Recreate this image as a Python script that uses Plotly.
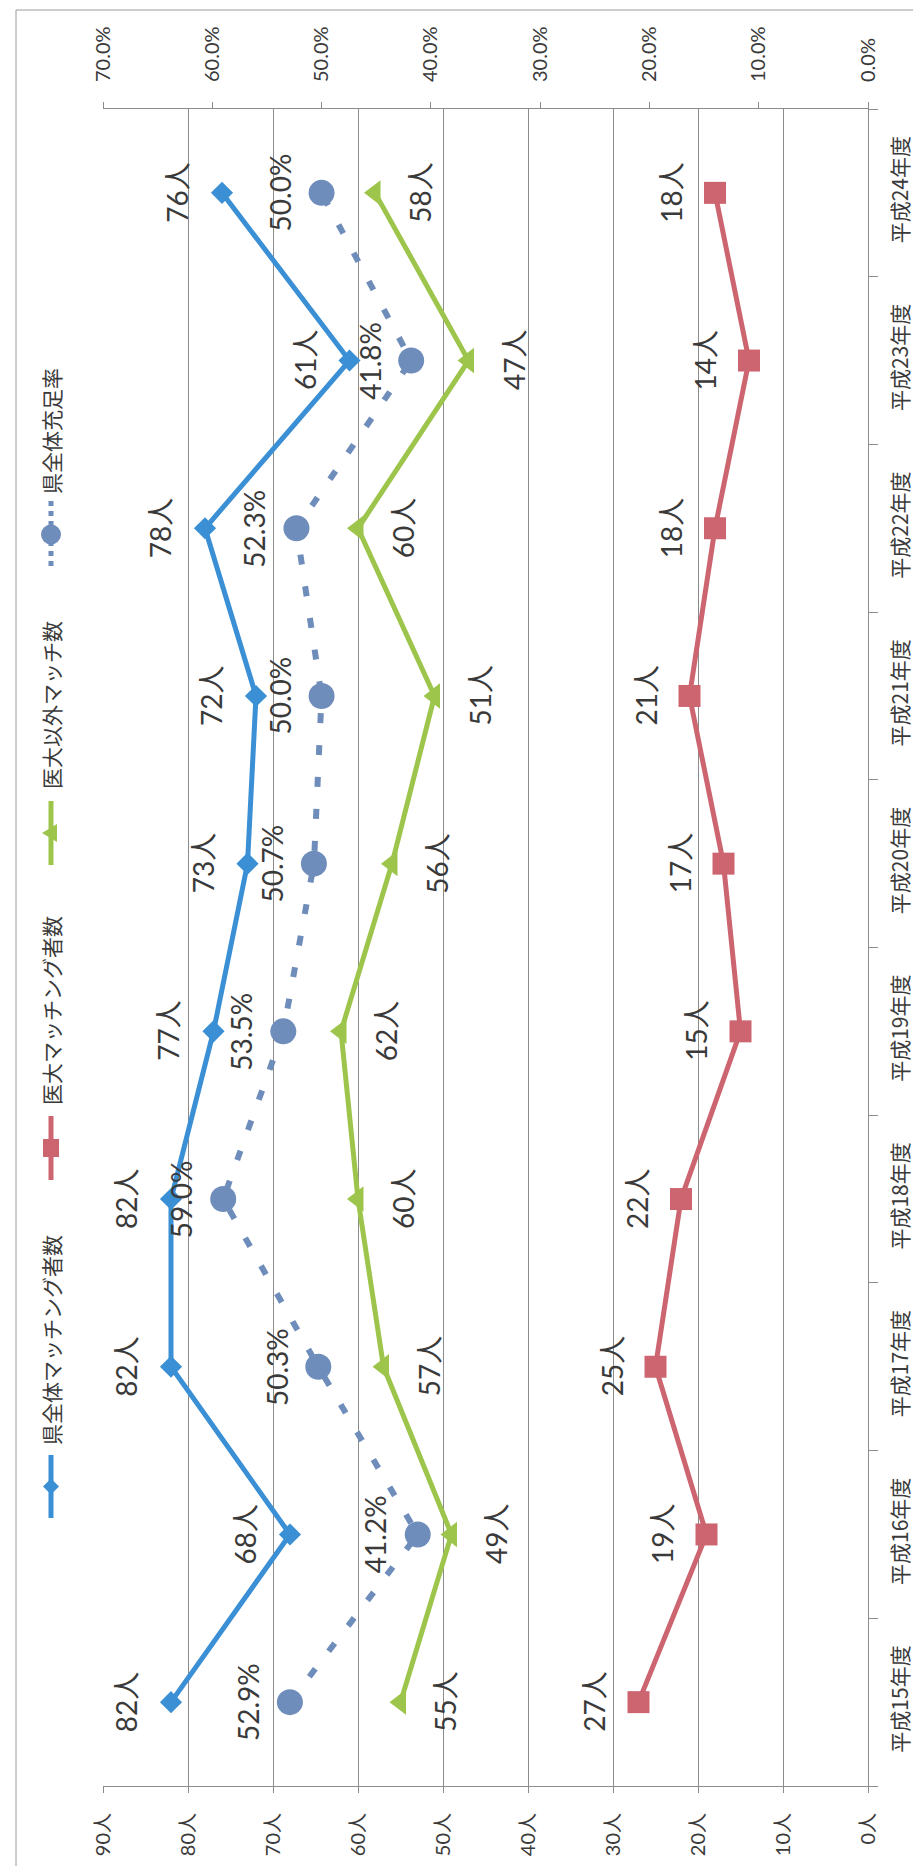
import plotly.graph_objects as go

# ---- data ----
categories = ["平成15年度", "平成16年度", "平成17年度", "平成18年度", "平成19年度",
              "平成20年度", "平成21年度", "平成22年度", "平成23年度", "平成24年度"]
total_match = [82, 68, 82, 82, 77, 73, 72, 78, 61, 76]          # 県全体マッチング者数
idai_match = [27, 19, 25, 22, 15, 17, 21, 18, 14, 18]            # 医大マッチング者数
other_match = [55, 49, 57, 60, 62, 56, 51, 60, 47, 58]           # 医大以外マッチ数
fill_rate = [52.9, 41.2, 50.3, 59.0, 53.5, 50.7, 50.0, 52.3, 41.8, 50.0]  # 県全体充足率 (%)

series_names = ["県全体マッチング者数", "医大マッチング者数", "医大以外マッチ数", "県全体充足率"]

# ---- style ----
W, H = 921, 1866
L, R, T, B = 95, 61, 101, 88
C_BLUE = "#3b8fd4"
C_RED = "#cc6570"
C_GREEN = "#9dc54c"
C_RATE = "#6f8dbb"
TXT = "#3a3a3a"
GRID = "#8c8c8c"
FONT = "Lato, 'Noto Sans CJK JP', sans-serif"
CJK = "'Noto Sans CJK JP', sans-serif"

fig = go.Figure()

fig.add_trace(go.Scatter(x=total_match, y=categories, mode="lines+markers", name=series_names[0],
                         line=dict(color=C_BLUE, width=5),
                         marker=dict(symbol="diamond", size=17, color=C_BLUE)))
fig.add_trace(go.Scatter(x=idai_match, y=categories, mode="lines+markers", name=series_names[1],
                         line=dict(color=C_RED, width=5),
                         marker=dict(symbol="square", size=22, color=C_RED)))
fig.add_trace(go.Scatter(x=other_match, y=categories, mode="lines+markers", name=series_names[2],
                         line=dict(color=C_GREEN, width=5),
                         marker=dict(symbol="triangle-left", size=22, color=C_GREEN)))
fig.add_trace(go.Scatter(x=fill_rate, y=categories, xaxis="x2", mode="lines+markers", name=series_names[3],
                         line=dict(color=C_RATE, width=6, dash="10px,22px"),
                         marker=dict(symbol="circle", size=26, color=C_RATE)))

# ---- data labels (rotated) ----
ann = []
def lab(xs, fmt, xref, shift):
    for c, v in zip(categories, xs):
        ann.append(dict(x=v, y=c, xref=xref, yref="y", text=fmt(v), showarrow=False,
                        xanchor="center", yanchor="middle",
                        textangle=-90, xshift=shift, font=dict(family=FONT, size=28, color=TXT)))

lab(total_match, lambda v: f"{v}人", "x", -45)
lab(idai_match, lambda v: f"{v}人", "x", -44)
lab(other_match, lambda v: f"{v}人", "x", 45)
lab(fill_rate, lambda v: f"{v:.1f}%", "x2", -42)

# ---- custom rotated legend ----
pw, ph = W - L - R, H - T - B
def px(xp):
    return (xp - L) / pw
def py(yp):
    return (H - B - yp) / ph

leg_x = 43
legend_items = [
    # name, color, symbol-line y range (px), text centre y (px), marker kind
    (series_names[0], C_BLUE, (1447, 1510), 1332, "diamond"),
    (series_names[1], C_RED, (1108, 1172), 1003, "square"),
    (series_names[2], C_GREEN, (793, 857), 697, "triangle"),
    (series_names[3], C_RATE, (493, 560), 423, "circle"),
]
shapes = []
for name, col, (y0, y1), ty, kind in legend_items:
    dash = "dot" if kind == "circle" else "solid"
    shapes.append(dict(type="line", xref="paper", yref="paper", x0=px(leg_x), x1=px(leg_x),
                       y0=py(y0), y1=py(y1), line=dict(color=col, width=5, dash=dash)))
    ax, ay = px(leg_x), py((y0 + y1) / 2)
    common = dict(xref="paper", yref="paper", xsizemode="pixel", ysizemode="pixel",
                  xanchor=ax, yanchor=ay, fillcolor=col, line=dict(color=col, width=0))
    if kind == "diamond":
        shapes.append(dict(type="path", path="M -8 0 L 0 -8 L 8 0 L 0 8 Z", **common))
    elif kind == "square":
        shapes.append(dict(type="rect", x0=-8, x1=8, y0=-9, y1=9, **common))
    elif kind == "triangle":
        shapes.append(dict(type="path", path="M -9 0 L 6 -9 L 6 9 Z", **common))
    else:
        shapes.append(dict(type="circle", x0=-10, x1=10, y0=-10, y1=10, **common))
    ann.append(dict(x=px(leg_x), y=py(ty), xref="paper", yref="paper", text=name, showarrow=False,
                    xanchor="center", yanchor="middle",
                    textangle=-90, font=dict(family=CJK, size=21, color=TXT)))

# outer chart frame
shapes.append(dict(type="rect", xref="paper", yref="paper",
                   x0=px(8), x1=px(918), y0=py(1863), y1=py(2),
                   line=dict(color="#9a9a9a", width=1), fillcolor="rgba(0,0,0,0)", layer="below"))

fig.update_layout(
    width=W, height=H,
    margin=dict(l=L, r=R, t=T, b=B),
    paper_bgcolor="white", plot_bgcolor="white",
    showlegend=False,
    font=dict(family=FONT, color=TXT),
    xaxis=dict(range=[90, 0], dtick=10, tick0=0, ticksuffix="人", tickangle=-90,
               showgrid=True, gridcolor=GRID, gridwidth=1, zeroline=False,
               showline=True, linecolor=GRID, linewidth=1, mirror=False,
               ticks="outside", ticklen=6, tickcolor=GRID, ticklabelstandoff=12,
               tickfont=dict(family=FONT, size=20, color=TXT), fixedrange=True),
    xaxis2=dict(range=[70, 0], dtick=10, tick0=0, tickformat=".1f", ticksuffix="%", tickangle=-90,
                overlaying="x", side="top", showgrid=False, zeroline=False,
                showline=True, linecolor=GRID, linewidth=1,
                ticks="outside", ticklen=6, tickcolor=GRID, ticklabelstandoff=16,
                tickfont=dict(family=FONT, size=20, color=TXT)),
    yaxis=dict(type="category", categoryorder="array", categoryarray=categories,
               range=[-0.5, 9.5], side="right", tickangle=-90,
               showgrid=False, zeroline=False, showline=True, linecolor=GRID, linewidth=1,
               ticks="outside", ticklen=9, tickcolor=GRID, tickson="boundaries",
               ticklabelstandoff=14,
               tickfont=dict(family=CJK, size=21, color=TXT)),
    annotations=ann,
    shapes=shapes,
)

fig.write_html("out.html")
